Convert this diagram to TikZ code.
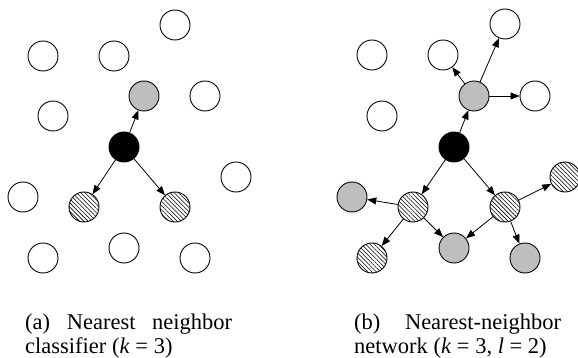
\documentclass[tikz,border=0pt]{standalone}
\usepackage{fontspec}
\setmainfont{Liberation Serif}
\usetikzlibrary{arrows.meta,patterns.meta}
\definecolor{nodegray}{RGB}{190,190,190}
\tikzset{
  pt/.style={circle,draw=black,line width=0.9pt,minimum size=30pt,inner sep=0pt},
  wc/.style={pt,fill=white},
  gc/.style={pt,fill=nodegray},
  bc/.style={pt,fill=black},
  hc/.style={pt,pattern={Lines[angle=-45,distance=3pt,line width=0.55pt]}},
  arr/.style={line width=0.8pt,-{Triangle[length=9pt,width=7pt]}},
  captext/.style={anchor=base west,inner sep=0pt,font=\fontsize{22.5}{25}\selectfont}
}
\begin{document}
\begin{tikzpicture}[x=1pt,y=-1pt]
\useasboundingbox (0,0) rectangle (578,358);
% ---- panel (a)
\node[wc] (a1) at (175,25) {};
\node[wc] (a2) at (43,56) {};
\node[wc] (a3) at (114,56) {};
\node[gc] (ag) at (144,96) {};
\node[wc] (a4) at (205,96) {};
\node[wc] (a5) at (53,116) {};
\node[bc] (ab) at (124,147) {};
\node[wc] (a6) at (236,177) {};
\node[wc] (a7) at (23,197) {};
\node[hc] (ah1) at (84,207) {};
\node[hc] (ah2) at (175,207) {};
\node[wc] (a8) at (43,258) {};
\node[wc] (a9) at (124,248) {};
\node[wc] (a10) at (195,258) {};
\draw[arr] (ab) -- (ag);
\draw[arr] (ab) -- (ah1);
\draw[arr] (ab) -- (ah2);
% ---- panel (b)
\node[wc] (b1) at (505,24) {};
\node[wc] (b2) at (372,55) {};
\node[wc] (b3) at (443,55) {};
\node[gc] (bg) at (474,96) {};
\node[wc] (b4) at (535,96) {};
\node[wc] (b5) at (382,116) {};
\node[bc] (bb) at (454,147) {};
\node[hc] (bh3) at (565,177) {};
\node[gc] (bg2) at (352,197) {};
\node[hc] (bh1) at (413,207) {};
\node[hc] (bh2) at (505,207) {};
\node[hc] (bh4) at (372,258) {};
\node[gc] (bg3) at (454,248) {};
\node[gc] (bg4) at (525,258) {};
\draw[arr] (bb) -- (bg);
\draw[arr] (bg) -- (b3);
\draw[arr] (bg) -- (b1);
\draw[arr] (bg) -- (b4);
\draw[arr] (bb) -- (bh1);
\draw[arr] (bb) -- (bh2);
\draw[arr] (bh1) -- (bg2);
\draw[arr] (bh1) -- (bh4);
\draw[arr] (bh1) -- (bg3);
\draw[arr] (bh2) -- (bh3);
\draw[arr] (bh2) -- (bg3);
\draw[arr] (bh2) -- (bg4);
% ---- captions
\node[captext] (capa1) at (25,329) {\makebox[207pt][s]{(a) Nearest neighbor}};
\node[captext] (capa2) at (25,353) {classifier (\textit{k} = 3)};
\node[captext] (capb1) at (354,329) {\makebox[207pt][s]{(b) Nearest-neighbor}};
\node[captext] (capb2) at (354,353) {network (\textit{k} = 3, \textit{l} = 2)};
\end{tikzpicture}
\end{document}
